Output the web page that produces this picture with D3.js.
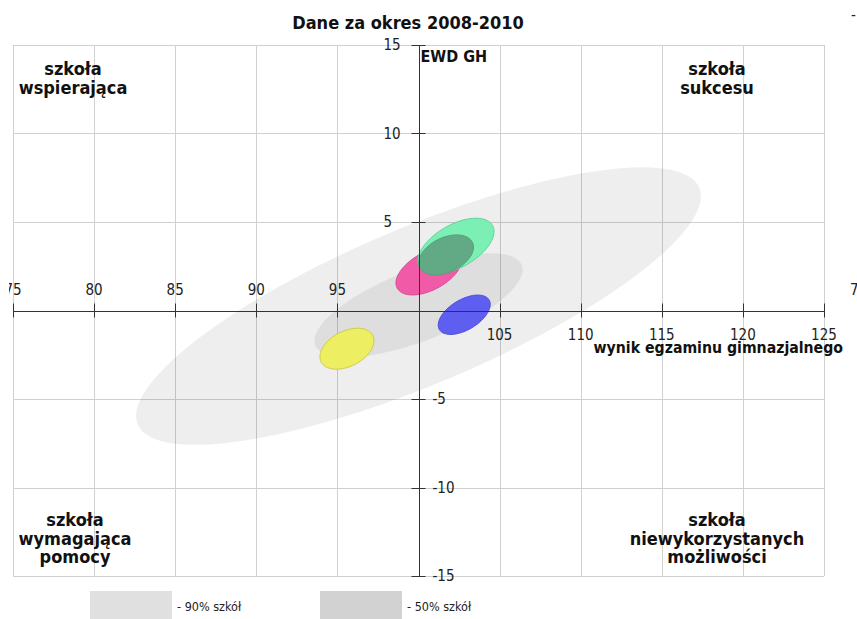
<!DOCTYPE html>
<html>
<head>
<meta charset="utf-8">
<script src="https://cdn.jsdelivr.net/npm/d3@7"></script>
<style>
html,body{margin:0;padding:0;background:#fff;}
svg{display:block;font-family:"DejaVu Sans Condensed","DejaVu Sans",sans-serif;font-stretch:condensed;}
</style>
</head>
<body>
<svg id="chart" width="857" height="619"></svg>
<script>
// ---- data ----
const title = "Dane za okres 2008-2010";
const xTicks = [75, 80, 85, 90, 95, 100, 105, 110, 115, 120, 125];
const yTicks = [15, 10, 5, 0, -5, -10, -15];
const xAxisTitle = "wynik egzaminu gimnazjalnego";
const yAxisTitle = "EWD GH";
const quadrantTL = ["szkoła", "wspierająca"];
const quadrantTR = ["szkoła", "sukcesu"];
const quadrantBL = ["szkoła", "wymagająca", "pomocy"];
const quadrantBR = ["szkoła", "niewykorzystanych", "możliwości"];
const legendLabels = ["- 90% szkół", "- 50% szkół"];

// reference bands (90% and 50% of schools): centre, major and minor half-axis vectors (data units)
const bandCx = [100.0, 100.0];
const bandCy = [0.25, 0.3];
const bandMajor = [[17.31, 6.69], [6.37, 2.26]];
const bandMinor = [[1.89, -4.09], [0.80, -1.88]];

// school ellipses: pink, green, dark green, blue, yellow
const schoolCx = [100.65, 102.31, 101.70, 102.82, 95.59];
const schoolCy = [2.23, 3.64, 3.14, -0.24, -2.16];
const schoolMajor = [[1.96, 0.97], [2.25, 1.17], [1.63, 0.70], [1.53, 0.84], [1.59, 0.75]];
const schoolMinor = [[0.56, -0.94], [0.66, -1.05], [0.45, -0.89], [0.48, -0.73], [0.50, -0.88]];
const schoolFill = ["#f05aa6", "#7cf0b4", "#62aa86", "#5e5ef0", "#eeee62"];
const schoolStroke = ["#d84a94", "#5ed49a", "#55a07c", "#4c4cdc", "#cccc48"];

// ---- layout ----
const svg = d3.select("#chart");
const x = d3.scaleLinear().domain([75, 125]).range([13, 824]);
const y = d3.scaleLinear().domain([-15, 15]).range([576, 45]);
const x0 = x(100), y0 = y(0);

svg.append("defs").append("clipPath").attr("id", "edgeclip")
  .append("rect").attr("x", 9).attr("y", 0).attr("width", 857).attr("height", 619);

function ellipsePath(cx, cy, maj, mn) {
  const pts = d3.range(0, 120).map(i => {
    const t = i / 120 * 2 * Math.PI;
    return [x(cx + maj[0] * Math.cos(t) + mn[0] * Math.sin(t)),
            y(cy + maj[1] * Math.cos(t) + mn[1] * Math.sin(t))];
  });
  return d3.line().curve(d3.curveLinearClosed)(pts);
}

// grid
const grid = svg.append("g");
grid.selectAll("line.v").data(xTicks).join("line")
  .attr("x1", d => Math.round(x(d)) + 0.5).attr("x2", d => Math.round(x(d)) + 0.5)
  .attr("y1", y(15)).attr("y2", y(-15))
  .attr("stroke", "#d0d0d0").attr("stroke-width", 1);
grid.selectAll("line.h").data(yTicks.filter(d => d !== 0)).join("line")
  .attr("y1", d => Math.round(y(d)) + 0.5).attr("y2", d => Math.round(y(d)) + 0.5)
  .attr("x1", x(75)).attr("x2", x(125))
  .attr("stroke", "#d0d0d0").attr("stroke-width", 1);

// bands
svg.append("g").selectAll("path").data(bandCx).join("path")
  .attr("d", (d, i) => ellipsePath(bandCx[i], bandCy[i], bandMajor[i], bandMinor[i]))
  .attr("fill", "#000").attr("fill-opacity", 0.066);

// school ellipses
svg.append("g").selectAll("path").data(schoolCx).join("path")
  .attr("d", (d, i) => ellipsePath(schoolCx[i], schoolCy[i], schoolMajor[i], schoolMinor[i]))
  .attr("fill", (d, i) => schoolFill[i])
  .attr("stroke", (d, i) => schoolStroke[i]).attr("stroke-width", 1);

// axes
const axisColor = "#333";
const ax = svg.append("g");
ax.append("line").attr("x1", x(75)).attr("x2", x(125))
  .attr("y1", Math.round(y0) + 0.5).attr("y2", Math.round(y0) + 0.5)
  .attr("stroke", axisColor);
ax.append("line").attr("x1", Math.round(x0) + 0.5).attr("x2", Math.round(x0) + 0.5)
  .attr("y1", y(15)).attr("y2", y(-15)).attr("stroke", axisColor);
ax.selectAll("line.xt").data(xTicks.filter(d => d !== 100)).join("line")
  .attr("x1", d => Math.round(x(d)) + 0.5).attr("x2", d => Math.round(x(d)) + 0.5)
  .attr("y1", y0 - 7).attr("y2", y0 + 7).attr("stroke", axisColor);
ax.selectAll("line.yt").data(yTicks.filter(d => d !== 0)).join("line")
  .attr("y1", d => Math.round(y(d)) + 0.5).attr("y2", d => Math.round(y(d)) + 0.5)
  .attr("x1", x0 - 7).attr("x2", x0 + 7).attr("stroke", axisColor);

// tick labels
ax.selectAll("text.xl").data(xTicks.filter(d => d !== 100)).join("text")
  .attr("x", d => x(d)).attr("y", d => d < 100 ? y0 - 16 : y0 + 29)
  .attr("text-anchor", "middle").attr("font-size", 15).attr("fill", "#222")
  .attr("clip-path", d => d === 75 ? "url(#edgeclip)" : null)
  .text(d => d);
ax.selectAll("text.yl").data(yTicks.filter(d => d !== 0)).join("text")
  .attr("x", d => d > 0 ? x0 - 35 : x0 + 14).attr("y", d => y(d))
  .attr("dy", "0.36em").attr("font-size", 15).attr("fill", "#222")
  .text(d => d);

// axis titles
svg.append("text").attr("x", x0 + 2).attr("y", 62).attr("font-size", 16)
  .attr("font-weight", "bold").attr("fill", "#111").text(yAxisTitle);
svg.append("text").attr("x", 843).attr("y", 353).attr("text-anchor", "end")
  .attr("font-size", 15.7).attr("font-weight", "bold").attr("fill", "#111").text(xAxisTitle);

// title
svg.append("text").attr("x", 408).attr("y", 29).attr("text-anchor", "middle")
  .attr("font-size", 18).attr("font-weight", "bold").attr("fill", "#111").text(title);

// quadrant labels
function quad(lines, cx, top) {
  svg.append("text").attr("text-anchor", "middle").attr("font-size", 18)
    .attr("font-weight", "bold").attr("fill", "#111")
    .selectAll("tspan").data(lines).join("tspan")
    .attr("x", cx).attr("y", (d, i) => top + i * 18.5).text(d => d);
}
quad(quadrantTL, 73, 75);
quad(quadrantTR, 717, 75);
quad(quadrantBL, 75, 526);
quad(quadrantBR, 717, 526);

// legend
const legendFill = ["#e0e0e0", "#d2d2d2"];
const lg = svg.append("g");
lg.selectAll("rect").data(legendLabels).join("rect")
  .attr("x", (d, i) => 90 + i * 230).attr("y", 591).attr("width", 82).attr("height", 29)
  .attr("fill", (d, i) => legendFill[i]);
lg.selectAll("text").data(legendLabels).join("text")
  .attr("x", (d, i) => 177 + i * 230).attr("y", 611).attr("font-size", 12.5).attr("fill", "#222")
  .text(d => d);

// fragments of neighbouring chart at the right edge
svg.append("text").attr("x", 851).attr("y", 20).attr("font-size", 15).attr("fill", "#222").text("-");
svg.append("text").attr("x", 850).attr("y", y0 - 16).attr("font-size", 15).attr("fill", "#222").text("7");
</script>
</body>
</html>
